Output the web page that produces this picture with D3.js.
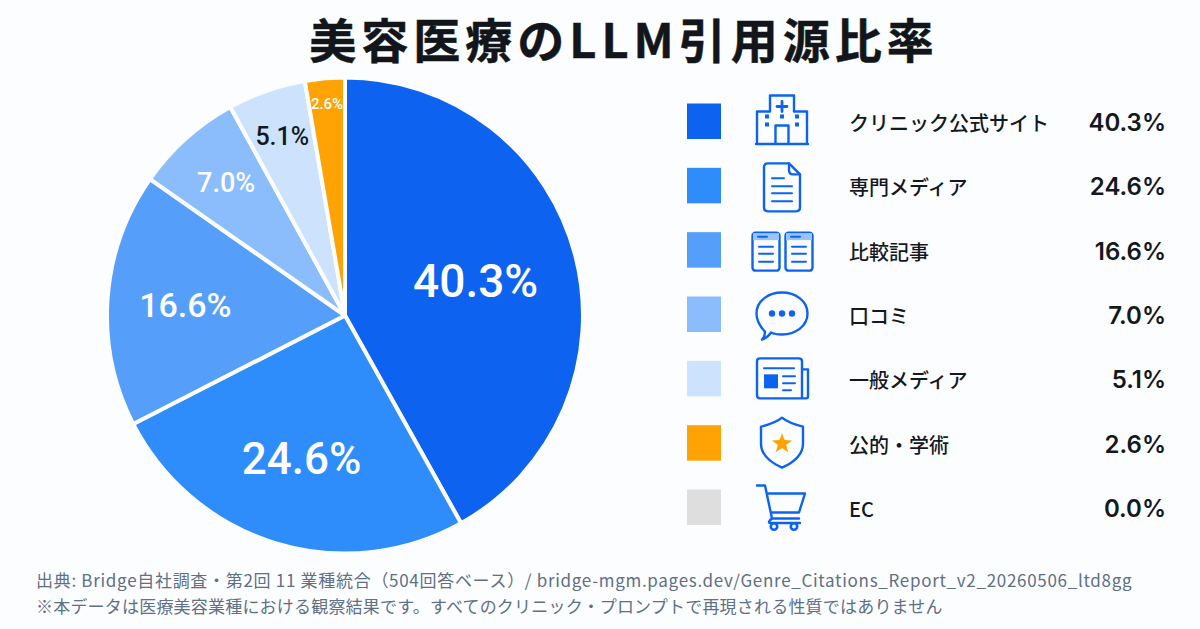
<!DOCTYPE html>
<html lang="ja">
<head>
<meta charset="utf-8">
<script src="https://cdn.jsdelivr.net/npm/d3@7"></script>
<style>
  html, body { margin: 0; padding: 0; background: #fcfdfe; }
  svg { display: block; }
  text { font-family: "Noto Sans CJK JP", "Noto Sans", sans-serif; }
  .num { font-family: Roboto, "Noto Sans", sans-serif; }
  .legend-num { font-family: Inter, Roboto, sans-serif; }
</style>
</head>
<body>
<svg id="chart" width="1200" height="629"></svg>
<script>
// Citation share by source type
const categories = ["クリニック公式サイト", "専門メディア", "比較記事", "口コミ", "一般メディア", "公的・学術", "EC"];
const shares = [40.3, 24.6, 16.6, 7.0, 5.1, 2.6, 0.0];
const sliceColors = ["#0d63ef", "#2e8cfb", "#559ffa", "#8bbcfb", "#cde2fd", "#ffa304", "#dedede"];
const iconNames = ["hospital", "document", "articles", "speech", "news", "shield", "cart"];
const titleText = "美容医療のLLM引用源比率";
const sourceNote = "出典: Bridge自社調査・第2回 11 業種統合（504回答ベース）/ bridge-mgm.pages.dev/Genre_Citations_Report_v2_20260506_ltd8gg";
const cautionNote = "※本データは医療美容業種における観察結果です。すべてのクリニック・プロンプトで再現される性質ではありません";

// Per-slice label styling
const labelRadius = [135, 150, 160, 178, 190, 212, 0];
const labelSize = [46, 44, 34, 27, 25, 15, 0];
const labelFill = ["#fff", "#fff", "#fff", "#fff", "#14181f", "#fff", "#fff"];
// Vertical nudge of each glyph relative to its legend row
const iconShift = [-1.5, 2, 2, 0.5, 1, 0, 0.5];

const svg = d3.select("#chart");
const pct = d => d.toFixed(1) + "%";

svg.append("text")
  .attr("x", 624).attr("y", 58)
  .attr("text-anchor", "middle")
  .attr("font-size", 47).attr("font-weight", 700)
  .attr("letter-spacing", 5)
  .attr("fill", "#12151a").attr("stroke", "#12151a").attr("stroke-width", 0.5)
  .text(titleText);

// Pie
const rows = categories.map((name, i) => ({ name, value: shares[i], index: i }));
const cx = 345, cy = 315.5, radius = 238;
const pie = d3.pie().value(d => d.value).sort(null);
const arc = d3.arc().innerRadius(0).outerRadius(radius);
const arcs = pie(rows).filter(d => d.data.value > 0);
const pieG = svg.append("g").attr("transform", `translate(${cx},${cy})`);

pieG.selectAll("path").data(arcs).join("path")
  .attr("d", arc)
  .attr("fill", d => sliceColors[d.data.index])
  .attr("stroke", "#fcfdfe")
  .attr("stroke-width", 4)
  .attr("stroke-linejoin", "round");

pieG.selectAll("text").data(arcs).join("text")
  .attr("class", "num")
  .attr("transform", d => {
    const r = labelRadius[d.data.index];
    const [x, y] = d3.arc().innerRadius(r).outerRadius(r).centroid(d);
    return `translate(${x},${y})`;
  })
  .attr("text-anchor", "middle")
  .attr("dominant-baseline", "central")
  .attr("font-size", d => labelSize[d.data.index])
  .attr("font-weight", 500)
  .attr("fill", d => labelFill[d.data.index])
  .text(d => pct(d.data.value));

// Legend icons, each drawn around its own centre
const iconBlue = "#0d63ef";
const icons = {
  hospital(g) {
    g.append("path").attr("d", "M-26,24.5H26 M-25,24V-8H-12V-24H12V-8H25V24 M-6.5,24V6H6.5V24");
    g.append("path").attr("d", "M0,-18V-8 M-5,-13H5").attr("stroke-width", 2.8);
    [[-15, -3], [0, -3], [15, -3], [-15, 5], [15, 5]].forEach(([x, y]) =>
      g.append("rect").attr("x", x - 2).attr("y", y - 2).attr("width", 4).attr("height", 4)
        .attr("fill", iconBlue).attr("stroke", "none"));
  },
  document(g) {
    g.append("path").attr("d", "M-14,-24H7L18,-13V20Q18,24 14,24H-14Q-18,24 -18,20V-20Q-18,-24 -14,-24Z");
    g.append("path").attr("d", "M7,-24V-17Q7,-13 11,-13H18");
    g.append("path").attr("d", "M-10,-9H2 M-10,-1H10 M-10,6H10 M-10,14H10").attr("stroke-width", 2);
  },
  articles(g) {
    [-16, 17].forEach(x => {
      const p = g.append("g").attr("transform", `translate(${x},0)`);
      p.append("rect").attr("x", -13.5).attr("y", -19).attr("width", 27).attr("height", 38).attr("rx", 3);
      p.append("rect").attr("x", -13).attr("y", -18.5).attr("width", 26).attr("height", 7)
        .attr("fill", "#9cc2fa").attr("stroke", "none");
      p.append("path").attr("d", "M-8,-15H1 M-7,-5H7 M-7,2H7 M-7,10H7").attr("stroke-width", 2);
    });
  },
  speech(g) {
    g.append("path").attr("d", "M-17,17C-22,12 -25.5,7 -25.5,-1C-25.5,-14 -13,-22 0,-22C13,-22 25.5,-14 25.5,-1C25.5,12 13,20 0,20C-5,20 -9,19 -11,18C-13,21 -17,24 -20,25C-18,23 -17,20 -17,17Z");
    [-10, 0, 10].forEach(x =>
      g.append("circle").attr("cx", x).attr("cy", -1).attr("r", 3.2).attr("fill", iconBlue).attr("stroke", "none"));
  },
  news(g) {
    g.append("path").attr("d", "M-22,-21H17Q20,-21 20,-18V19H-22Q-25,19 -25,16V-18Q-25,-21 -22,-21Z M20,-10H26V17Q26,19 24,19H20");
    g.append("path").attr("d", "M-18,-11H12 M1,-3H13 M1,4H13 M1,11H9").attr("stroke-width", 2);
    g.append("rect").attr("x", -18).attr("y", -5).attr("width", 14).attr("height", 14)
      .attr("fill", iconBlue).attr("stroke", "none");
  },
  shield(g) {
    g.append("path").attr("d", "M0,-25C-6,-20 -13,-18 -21,-16V1C-21,12 -11,20 0,25C11,20 21,12 21,1V-16C13,-18 6,-20 0,-25Z");
    const star = d3.range(10).map(i => {
      const r = i % 2 ? 4.4 : 10.5, a = i * Math.PI / 5;
      return [r * Math.sin(a), -r * Math.cos(a) + 1];
    });
    g.append("path").attr("d", d3.line()(star) + "Z").attr("fill", "#ffa304").attr("stroke", "none");
  },
  cart(g) {
    g.append("path").attr("d", "M-25,-22H-17L-10,11H17 M-15,-14H23L17,5H-11 M-10,11Q-16,16 -10,15.5H18");
    [-8, 12].forEach(x =>
      g.append("circle").attr("cx", x).attr("cy", 19).attr("r", 3.2).attr("stroke-width", 2.6));
  }
};

// Legend rows
const rowY = d3.scalePoint().domain(d3.range(rows.length)).range([121, 507]);
const legend = svg.append("g").selectAll("g").data(rows).join("g")
  .attr("transform", d => `translate(0,${rowY(d.index)})`);

legend.append("rect")
  .attr("x", 687).attr("y", -17.5).attr("width", 34).attr("height", 35.5)
  .attr("fill", d => sliceColors[d.index]);

legend.append("g")
  .attr("transform", d => `translate(782,${iconShift[d.index]})`)
  .attr("fill", "none").attr("stroke", iconBlue).attr("stroke-width", 2.4)
  .attr("stroke-linecap", "round").attr("stroke-linejoin", "round")
  .each(function (d) { icons[iconNames[d.index]](d3.select(this)); });

legend.append("text")
  .attr("x", 849).attr("y", 1.5).attr("dominant-baseline", "central")
  .attr("font-size", 20).attr("font-weight", 500).attr("fill", "#14181f")
  .text(d => d.name);

legend.append("text")
  .attr("class", "legend-num")
  .attr("x", 1166).attr("y", 1.5).attr("text-anchor", "end").attr("dominant-baseline", "central")
  .attr("font-size", 24).attr("font-weight", 600).attr("fill", "#14181f")
  .text(d => pct(d.value));

// Footnotes
svg.append("text").attr("x", 36).attr("y", 587)
  .attr("font-size", 17).attr("fill", "#5f6f86").attr("letter-spacing", 0.7)
  .text(sourceNote);
svg.append("text").attr("x", 36).attr("y", 613)
  .attr("font-size", 17).attr("fill", "#5f6f86").attr("letter-spacing", 0.2)
  .text(cautionNote);
</script>
</body>
</html>
